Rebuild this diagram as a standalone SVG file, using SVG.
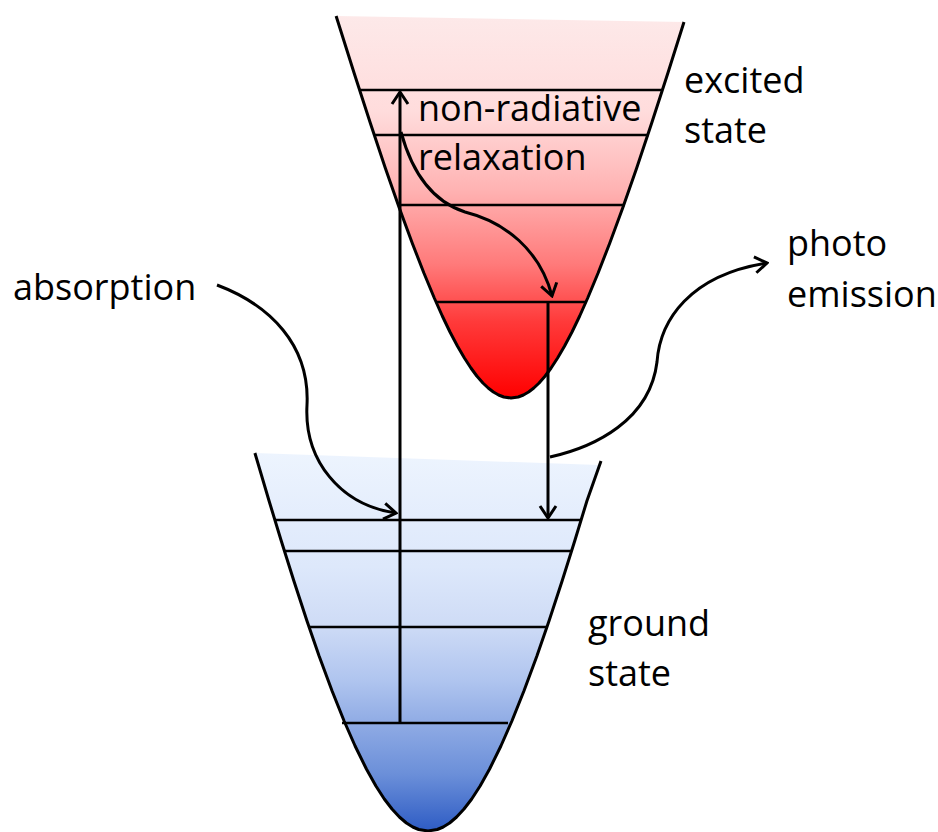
<svg xmlns="http://www.w3.org/2000/svg" width="938" height="832" viewBox="0 0 938 832">
<style>
.well{stroke:#000;stroke-width:3;stroke-linejoin:round;fill:none}
.lvl{stroke:#000;stroke-width:2.5}
.arr{stroke:#000;stroke-width:3;fill:none;marker-end:url(#chev)}
.lbl{font-family:"Open Sans","Noto Sans","DejaVu Sans",sans-serif;font-size:36px;fill:#000}
</style>
<defs>
<linearGradient id="red" gradientUnits="userSpaceOnUse" x1="0" y1="16" x2="0" y2="398">
<stop offset="0" stop-color="#fde9e9"/>
<stop offset="0.25" stop-color="#ffdcdc"/>
<stop offset="0.45" stop-color="#ffb4b4"/>
<stop offset="0.65" stop-color="#ff7a7a"/>
<stop offset="0.8" stop-color="#ff3a3a"/>
<stop offset="1" stop-color="#ff0000"/>
</linearGradient>
<linearGradient id="blue" gradientUnits="userSpaceOnUse" x1="0" y1="453" x2="0" y2="831">
<stop offset="0" stop-color="#edf4fe"/>
<stop offset="0.3" stop-color="#dde8fb"/>
<stop offset="0.45" stop-color="#cfdcf6"/>
<stop offset="0.6" stop-color="#b0c5ef"/>
<stop offset="0.72" stop-color="#8eaae4"/>
<stop offset="0.85" stop-color="#6b8fd9"/>
<stop offset="1" stop-color="#2e5cc4"/>
</linearGradient>
<marker id="chev" viewBox="-14 -10 16 20" markerWidth="16" markerHeight="20" refX="0" refY="0" orient="auto" markerUnits="userSpaceOnUse">
<path d="M -12 -8 L 0 0 L -12 8" fill="none" stroke="#000" stroke-width="3" stroke-linejoin="miter"/>
</marker>
</defs>

<g id="excited-state">
<path d="M336.1 16 L354.1 73 L370.3 123 L385.3 168 L399.3 208 L412.2 243 L423.9 273 L434.3 298 L442.3 316 L450 332 L457.4 346 L464.4 358 L470.9 368 L476.8 376 L482.9 383 L488.2 388 L493.4 392 L498.6 395 L503.8 397 L511 398 L518.2 397 L523.4 395 L528.6 392 L533.8 388 L539.1 383 L545.2 376 L551.1 368 L557.6 358 L564.6 346 L572 332 L579.7 316 L587.7 298 L598.1 273 L609.8 243 L622.7 208 L636.7 168 L651.7 123 L667.9 73 L684 22 Z" fill="url(#red)" stroke="none"/>
<path class="well" d="M336.1 16 L354.1 73 L370.3 123 L385.3 168 L399.3 208 L412.2 243 L423.9 273 L434.3 298 L442.3 316 L450 332 L457.4 346 L464.4 358 L470.9 368 L476.8 376 L482.9 383 L488.2 388 L493.4 392 L498.6 395 L503.8 397 L511 398 L518.2 397 L523.4 395 L528.6 392 L533.8 388 L539.1 383 L545.2 376 L551.1 368 L557.6 358 L564.6 346 L572 332 L579.7 316 L587.7 298 L598.1 273 L609.8 243 L622.7 208 L636.7 168 L651.7 123 L667.9 73 L684 22"/>
<line class="lvl" x1="360" y1="90" x2="663" y2="90"/>
<line class="lvl" x1="374" y1="135" x2="649" y2="135"/>
<line class="lvl" x1="398" y1="205" x2="625" y2="205"/>
<line class="lvl" x1="436" y1="302" x2="586" y2="302"/>
<text class="lbl" x="684" y="93">excited</text>
<text class="lbl" x="684" y="143">state</text>
</g>

<g id="ground-state">
<path d="M254.9 453 L269.1 501 L281.3 541 L293.9 581 L307 621 L319.1 656 L332.1 691 L344.1 721 L355.1 746 L366.4 769 L375.9 786 L384.3 799 L392 809 L399.4 817 L406.4 823 L412.8 827 L418.7 829.5 L428 831 L437.3 829.5 L443.2 827 L449.6 823 L456.6 817 L464 809 L471.7 799 L480.1 786 L489.6 769 L500.9 746 L511.9 721 L523.9 691 L536.9 656 L549 621 L562.1 581 L574.7 541 L586.9 501 L599 465 Z" fill="url(#blue)" stroke="none"/>
<path class="well" d="M254.9 453 L269.1 501 L281.3 541 L293.9 581 L307 621 L319.1 656 L332.1 691 L344.1 721 L355.1 746 L366.4 769 L375.9 786 L384.3 799 L392 809 L399.4 817 L406.4 823 L412.8 827 L418.7 829.5 L428 831 L437.3 829.5 L443.2 827 L449.6 823 L456.6 817 L464 809 L471.7 799 L480.1 786 L489.6 769 L500.9 746 L511.9 721 L523.9 691 L536.9 656 L549 621 L562.1 581 L574.7 541 L586.9 501 L601 461"/>
<line class="lvl" x1="275" y1="520" x2="582" y2="520"/>
<line class="lvl" x1="284" y1="551" x2="572" y2="551"/>
<line class="lvl" x1="308" y1="627" x2="547" y2="627"/>
<line class="lvl" x1="342" y1="723" x2="508" y2="723"/>
<text class="lbl" x="588" y="636">ground</text>
<text class="lbl" x="588" y="686">state</text>
</g>

<g id="absorption-label">
<text class="lbl" x="13" y="300">absorption</text>
</g>
<g id="relaxation-label">
<text class="lbl" x="418" y="121">non-radiative</text>
<text class="lbl" x="418" y="170">relaxation</text>
</g>
<g id="emission-label">
<text class="lbl" x="787" y="256">photo</text>
<text class="lbl" x="787" y="307">emission</text>
</g>

<g id="connectors">
<line class="arr" x1="400" y1="723" x2="400" y2="92"/>
<line class="arr" x1="548" y1="302" x2="548" y2="518"/>
<path class="arr" d="M401 132 C410 165 428 200 465 212 C505 222 540 250 552 296"/>
<path class="arr" d="M217 285 C270 305 310 345 307 405 C304 460 340 505 396 513"/>
<path class="arr" d="M550 457 C595 447 650 420 657 362 C660 320 690 275 767 263"/>
</g>
</svg>
